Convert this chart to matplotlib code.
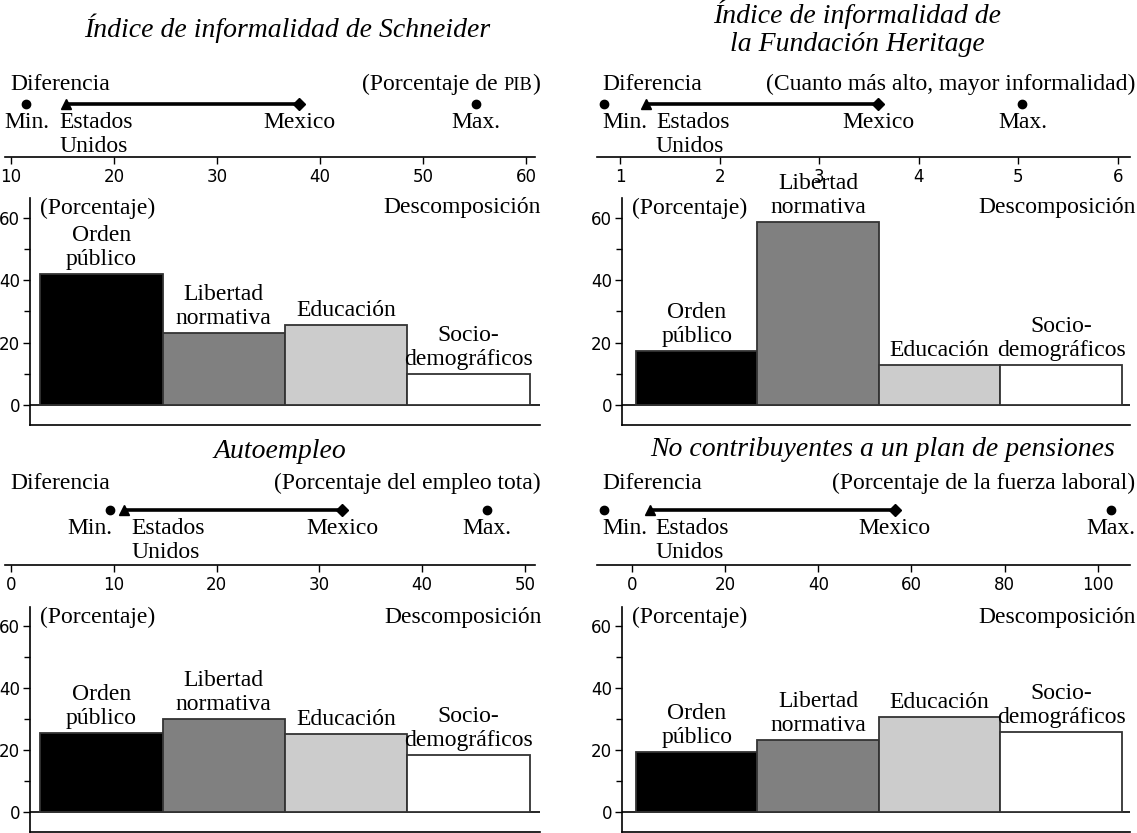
import matplotlib.pyplot as plt
from matplotlib.ticker import MultipleLocator

W, H = 1137, 833
SERIF = ["Liberation Serif", "DejaVu Serif"]
SANS = ["DejaVu Sans"]
FS = 17

# bar categories shared by all four panels
categories = ["Orden\npúblico", "Libertad\nnormativa", "Educación", "Socio-\ndemográficos"]
bar_colors = ["#000000", "#808080", "#cccccc", "#ffffff"]

titles = [
    "Índice de informalidad de Schneider",
    "Índice de informalidad de\nla Fundación Heritage",
    "Autoempleo",
    "No contribuyentes a un plan de pensiones",
]
# unit notes: (text before, small-caps part, text after)
units = [
    ("(Porcentaje de ", "PIB", ")"),
    ("(Cuanto más alto, mayor informalidad)", "", ""),
    ("(Porcentaje del empleo tota)", "", ""),
    ("(Porcentaje de la fuerza laboral)", "", ""),
]

# "Diferencia" strip: min, Estados Unidos, Mexico, max
schneider_diff = [11.5, 15.3, 38.0, 55.1]
heritage_diff = [0.84, 1.26, 3.59, 5.04]
autoempleo_diff = [9.6, 11.0, 32.2, 46.3]
pensiones_diff = [-6.0, 3.9, 56.4, 102.8]

schneider_ticks = [10, 20, 30, 40, 50, 60]
heritage_ticks = [1, 2, 3, 4, 5, 6]
autoempleo_ticks = [0, 10, 20, 30, 40, 50]
pensiones_ticks = [0, 20, 40, 60, 80, 100]

# "Descomposición" bars (percent)
schneider_decomp = [41.9, 23.0, 25.6, 9.9]
heritage_decomp = [17.3, 58.6, 12.8, 12.8]
autoempleo_decomp = [25.6, 30.1, 25.3, 18.5]
pensiones_decomp = [19.4, 23.3, 30.8, 25.9]

diffs = [schneider_diff, heritage_diff, autoempleo_diff, pensiones_diff]
ticks = [schneider_ticks, heritage_ticks, autoempleo_ticks, pensiones_ticks]
decomps = [schneider_decomp, heritage_decomp, autoempleo_decomp, pensiones_decomp]

# layout, in pixels of the output image
title_pos = [(287, 28), (857, 28), (280, 452), (883, 450)]
strip_box = [(5, 65, 535, 157), (597, 65, 1130, 157), (5, 465, 535, 565), (597, 465, 1130, 565)]
strip_xlim = [(9.42, 60.87), (0.769, 6.12), (-0.58, 50.97), (-7.5, 106.9)]
diff_label_y = [84, 84, 483, 483]
marker_px = [53, 53, 55, 55]
min_align = [("center", 0), ("left", -2), ("right", 3), ("left", -2)]
us_offset = [-6, 10, 7, 5]
bar_box = [(30, 198, 540, 425), (622, 198, 1130, 425), (30, 607, 540, 832), (622, 607, 1130, 832)]
bar_xlim = [(-0.582, 3.582), (-0.615, 3.566), (-0.582, 3.582), (-0.615, 3.566)]
unit_right = [540, 1135, 541, 1135]


def px_axes(fig, x0, y0, x1, y1):
    return fig.add_axes([x0 / W, 1 - y1 / H, (x1 - x0) / W, (y1 - y0) / H])


fig = plt.figure(figsize=(W / 100, H / 100), dpi=100)
renderer = fig.canvas.get_renderer()

for k in range(4):
    tx, ty = title_pos[k]
    fig.text(tx / W, 1 - ty / H, titles[k], ha="center", va="center",
             family=SERIF, style="italic", fontsize=20, linespacing=1.15)

    # difference strip
    x0, y0, x1, y1 = strip_box[k]
    ax = px_axes(fig, x0, y0, x1, y1)
    ax.set_xlim(*strip_xlim[k])
    ax.set_ylim(0, y1 - y0)
    for side in ["top", "right", "left"]:
        ax.spines[side].set_visible(False)
    ax.spines["bottom"].set_linewidth(1.2)
    ax.set_yticks([])
    ax.set_xticks(ticks[k])
    ax.tick_params(axis="x", direction="out", length=5, width=1, labelsize=12, pad=3)
    for lab in ax.get_xticklabels():
        lab.set_family(SANS)

    lo, us, mx, hi = diffs[k]
    my = marker_px[k]
    ax.plot([us, mx], [my, my], color="black", lw=2.6, solid_capstyle="butt", zorder=2)
    ax.plot([lo, hi], [my, my], "o", color="black", ms=6, zorder=3)
    ax.plot([us], [my], "^", color="black", ms=7, zorder=3)
    ax.plot([mx], [my], "D", color="black", ms=6, zorder=3)

    lab_kw = dict(textcoords="offset pixels", va="top", family=SERIF, fontsize=FS,
                  linespacing=1.2)
    ha, dx = min_align[k]
    ax.annotate("Min.", (lo, my), xytext=(dx, -8), ha=ha, **lab_kw)
    ax.annotate("Estados\nUnidos", (us, my), xytext=(us_offset[k], -8), ha="left", **lab_kw)
    ax.annotate("Mexico", (mx, my), xytext=(0, -8), ha="center", **lab_kw)
    ax.annotate("Max.", (hi, my), xytext=(0, -8), ha="center", **lab_kw)

    base_y = 1 - (diff_label_y[k] + 6) / H
    fig.text((x0 + 5) / W, base_y, "Diferencia", ha="left", va="baseline",
             family=SERIF, fontsize=FS)

    # unit note, right-aligned, with an optional small-caps part
    before, small, after = units[k]
    right = unit_right[k] / W
    for part, size in [(after, FS), (small, FS * 0.78), (before, FS)]:
        if not part:
            continue
        t = fig.text(right, base_y, part, ha="right", va="baseline", family=SERIF,
                     fontsize=size)
        bb = t.get_window_extent(renderer)
        right = bb.x0 / W

    # decomposition bars
    bx0, by0, bx1, by1 = bar_box[k]
    bx = px_axes(fig, bx0, by0, bx1, by1)
    pos = list(range(len(categories)))
    vals = decomps[k]
    bx.bar(pos, vals, width=1.0, color=bar_colors, edgecolor="#333333", linewidth=1.3, zorder=3)
    bx.axhline(0, color="black", lw=1.2, zorder=2)
    bx.set_xlim(*bar_xlim[k])
    bx.set_ylim(-6.4, 66.3)
    for side in ["top", "right"]:
        bx.spines[side].set_visible(False)
    bx.spines["left"].set_linewidth(1.2)
    bx.spines["bottom"].set_linewidth(1.2)
    bx.set_xticks([])
    bx.set_yticks([0, 20, 40, 60])
    bx.yaxis.set_minor_locator(MultipleLocator(10))
    bx.tick_params(axis="y", which="major", direction="out", length=5, width=1,
                   labelsize=12, pad=2)
    bx.tick_params(axis="y", which="minor", direction="out", length=4, width=1)
    for lab in bx.get_yticklabels():
        lab.set_family(SANS)

    for p, v, name in zip(pos, vals, categories):
        bx.annotate(name, (p, v), xytext=(0, 4), textcoords="offset pixels",
                    ha="center", va="bottom", family=SERIF, fontsize=FS,
                    linespacing=1.2, zorder=4)

    top_y = 1 - 10 / (by1 - by0)
    bx.text(10 / (bx1 - bx0), top_y, "(Porcentaje)", transform=bx.transAxes,
            ha="left", va="center", family=SERIF, fontsize=FS)
    bx.text((unit_right[k] + 1 - bx0) / (bx1 - bx0), top_y, "Descomposición",
            transform=bx.transAxes, ha="right", va="center", family=SERIF, fontsize=FS)

fig.savefig("out.png", dpi=100)
